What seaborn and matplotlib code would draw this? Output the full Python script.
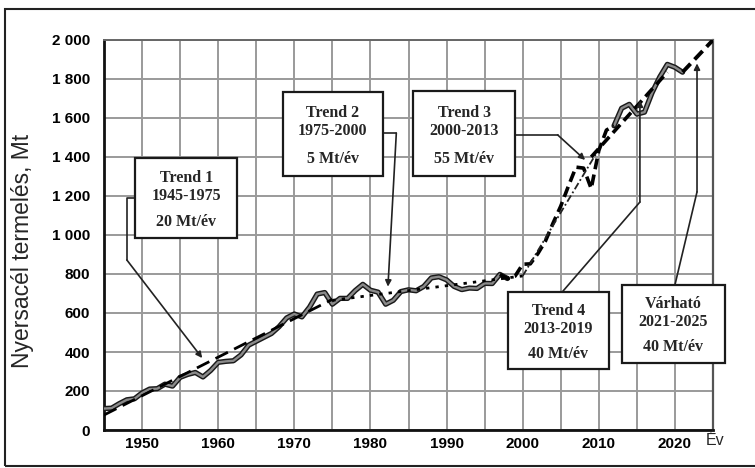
import matplotlib
matplotlib.use("Agg")
import matplotlib.pyplot as plt
import seaborn as sns
import pandas as pd
from matplotlib.patches import Rectangle

# ---- data ----
years = list(range(1945, 2022))
output_mt = [110, 112, 135, 155, 160, 190, 210, 212, 235, 225,
             270, 285, 295, 272, 305, 347, 352, 355, 385, 435,
             455, 475, 495, 530, 575, 595, 580, 630, 697, 705,
             645, 675, 675, 715, 747, 717, 707, 645, 665, 710,
             719, 714, 736, 780, 786, 770, 736, 720, 728, 726,
             752, 751, 798, 777, 789, 850, 852, 905, 970, 1062,
             1148, 1250, 1348, 1343, 1238, 1433, 1538, 1560, 1650, 1670,
             1620, 1630, 1730, 1810, 1875, 1860, 1835]

trend1_years = [1945, 1975]
trend1_vals = [77, 670]
trend2_years = [1975, 2000]
trend2_vals = [665, 790]
trend3_years = [2000, 2010]
trend3_vals = [790, 1440]
trend4_years = [2009, 2019]
trend4_vals = [1400, 1835]
proj_years = [2021, 2025]
proj_vals = [1835, 2000]

box_texts = [("Trend 1\n1945-1975", "20 Mt/év"),
             ("Trend 2\n1975-2000", "5 Mt/év"),
             ("Trend 3\n2000-2013", "55 Mt/év"),
             ("Trend 4\n2013-2019", "40 Mt/év"),
             ("Várható\n2021-2025", "40 Mt/év")]

df = pd.DataFrame({"year": years, "mt": output_mt})

sns.set_style("white")
plt.rcParams["font.family"] = ["Liberation Sans", "DejaVu Sans"]

fig = plt.figure(figsize=(7.55, 4.68), dpi=100)
ax = fig.add_axes([104 / 755, 1 - 430 / 468, 609 / 755, 390 / 468])

# ---- production line (grey with dark outline), dashed in the boom years ----
solid_a = df[df.year <= 1998]
solid_b = df[df.year >= 2012]
boom = df[(df.year >= 1997) & (df.year <= 2012)]
for part in (solid_a, solid_b):
    sns.lineplot(x="year", y="mt", data=part, ax=ax, color="#1a1a1a", lw=3.8, zorder=3)
    sns.lineplot(x="year", y="mt", data=part, ax=ax, color="#8a8a8a", lw=1.7, zorder=4)
sns.lineplot(x="year", y="mt", data=boom, ax=ax, color="black", lw=2.6,
             linestyle=(0, (3, 1.5)), zorder=5)

# ---- trend lines ----
ax.plot(trend1_years, trend1_vals, color="black", lw=2.0, ls=(0, (5, 2.5)), zorder=5)
ax.plot(trend2_years, trend2_vals, color="black", lw=2.0, ls=(0, (1.2, 2.2)), zorder=5)
ax.plot(trend3_years, trend3_vals, color="#222222", lw=1.3, ls=(0, (4, 1.5, 1, 1.5)), zorder=5)
ax.plot(trend4_years, trend4_vals, color="black", lw=2.6, ls=(0, (3, 1.5)), zorder=5)
ax.plot(proj_years, proj_vals, color="black", lw=2.8, ls=(0, (3, 1.5)), zorder=5)

# ---- axes ----
ax.set_xlim(1945, 2025)
ax.set_ylim(0, 2000)
ax.set_xticks(range(1950, 2021, 10))
ax.set_xticks(range(1945, 2026, 5), minor=True)
ax.set_yticks(range(0, 2001, 200))
ax.set_yticklabels([f"{v:,}".replace(",", " ") for v in range(0, 2001, 200)])
ax.grid(True, which="both", axis="x", color="#9a9a9a", lw=1.4)
ax.grid(True, which="major", axis="y", color="#9a9a9a", lw=1.4)
ax.set_axisbelow(True)
ax.tick_params(axis="both", which="both", labelsize=11, colors="#555555", length=3)
ax.tick_params(axis="y", pad=7)
ax.tick_params(axis="x", pad=2)
for lab in ax.get_xticklabels() + ax.get_yticklabels():
    lab.set_fontweight("bold")
    lab.set_color("black")
ax.spines["left"].set_color("#111111")
ax.spines["bottom"].set_color("#111111")
ax.spines["left"].set_linewidth(2)
ax.spines["bottom"].set_linewidth(2)
ax.spines["top"].set_color("#666666")
ax.spines["right"].set_color("#555555")
ax.spines["top"].set_linewidth(1.4)
ax.spines["right"].set_linewidth(1.6)
ax.set_xlabel("")
ax.set_ylabel("Nyersacél termelés, Mt", fontsize=16.5)
ax.yaxis.set_label_coords(-0.115, 0.46)
ax.text(2024.1, -52, "Év", fontsize=11.5, ha="left", va="center", clip_on=False)

# ---- annotation boxes: (x0, x1, y_bottom, y_top) in data units ----
boxes = [(1949.1, 1962.5, 985, 1395),
         (1968.5, 1981.6, 1303, 1733),
         (1985.6, 1999.0, 1303, 1738),
         (1998.1, 2011.3, 313, 708),
         (2013.0, 2026.6, 344, 744)]
connectors = [[(1949.1, 1190), (1948.0, 1190), (1948.0, 872), (1957.9, 369)],
              [(1981.6, 1523), (1983.4, 1523), (1982.3, 735)],
              [(1999.0, 1513), (2004.6, 1513), (2008.2, 1385)],
              [(2005.2, 708), (2015.4, 1169), (2015.4, 1690)],
              [(2020.0, 744), (2022.9, 1221), (2022.9, 1880)]]

for (x0, x1, y0, y1), (top, rate), pts in zip(boxes, box_texts, connectors):
    ax.add_patch(Rectangle((x0, y0), x1 - x0, y1 - y0, facecolor="white",
                           edgecolor="#1a1a1a", lw=1.6, zorder=8, clip_on=False))
    xc = (x0 + x1) / 2
    h = y1 - y0
    ax.text(xc, y1 - 0.36 * h, top, ha="center", va="center", fontsize=11.5,
            family="Liberation Serif", fontweight="bold", linespacing=1.15,
            zorder=9, clip_on=False)
    ax.text(xc, y0 + 0.2 * h, rate, ha="center", va="center", fontsize=11.5,
            family="Liberation Serif", fontweight="bold", zorder=9, clip_on=False)
    xs, ys = zip(*pts[:-1])
    ax.plot(xs, ys, color="#222222", lw=1.2, zorder=7, clip_on=False)
    ax.annotate("", xy=pts[-1], xytext=pts[-2],
                arrowprops=dict(arrowstyle="-|>", color="#222222", lw=1.2,
                                mutation_scale=9, shrinkA=0, shrinkB=0),
                zorder=7)

# outer frame of the figure
fig.patches.append(Rectangle((5 / 755, 2 / 468), 1.0, 457 / 468, transform=fig.transFigure,
                             fill=False, edgecolor="#222222", lw=1.5))

fig.savefig("out.png", dpi=100)
